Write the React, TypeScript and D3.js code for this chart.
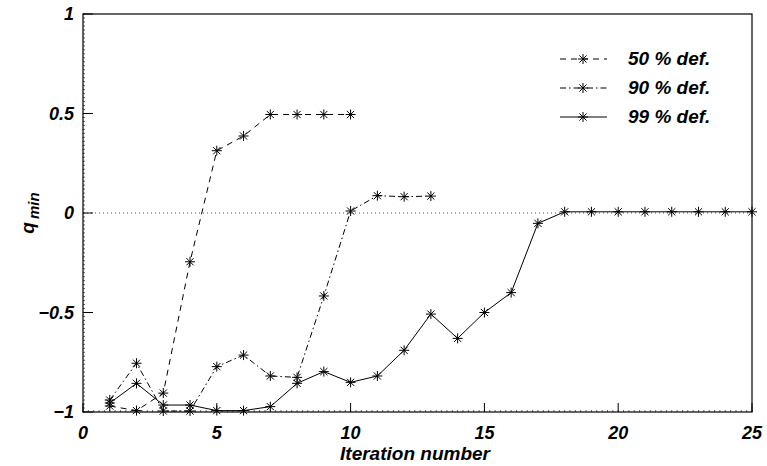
import React, { useEffect, useRef } from 'react';
import * as d3 from 'd3';

// iteration numbers and q_min values
const iter50 = [1, 2, 3, 4, 5, 6, 7, 8, 9, 10];
const q50 = [-0.97, -0.993, -0.905, -0.245, 0.313, 0.387, 0.495, 0.495, 0.495, 0.495];

const iter90 = [1, 2, 3, 4, 5, 6, 7, 8, 9, 10, 11, 12, 13];
const q90 = [-0.94, -0.755, -0.995, -0.995, -0.772, -0.714, -0.819, -0.826, -0.417, 0.01, 0.087, 0.082, 0.085];

const iter99 = [1, 2, 3, 4, 5, 6, 7, 8, 9, 10, 11, 12, 13, 14, 15, 16, 17, 18, 19, 20, 21, 22, 23, 24, 25];
const q99 = [-0.955, -0.856, -0.965, -0.965, -0.993, -0.993, -0.973, -0.856, -0.797, -0.851, -0.819, -0.69, -0.508, -0.63, -0.5, -0.4, -0.052, 0.006, 0.006, 0.006, 0.006, 0.006, 0.006, 0.006, 0.006];

const xTicks = [0, 5, 10, 15, 20, 25];
const yTicks = [-1, -0.5, 0, 0.5, 1];
const seriesNames = ['50 % def.', '90 % def.', '99 % def.'];

const FONT = '"Liberation Sans", Arial, Helvetica, sans-serif';

function App() {
  const ref = useRef<SVGSVGElement>(null);

  useEffect(() => {
    const svg = d3.select(ref.current);
    svg.selectAll('*').remove();

    const left = 83, right = 752, top = 14, bottom = 412;
    const x = d3.scaleLinear().domain([0, 25]).range([left, right]);
    const y = d3.scaleLinear().domain([-1, 1]).range([bottom, top]);

    // zero line
    svg.append('line')
      .attr('x1', left).attr('x2', right)
      .attr('y1', y(0)).attr('y2', y(0))
      .attr('stroke', '#555').attr('stroke-width', 1)
      .attr('stroke-dasharray', '1,3');

    // minor ticks
    const g = svg.append('g').attr('stroke', '#000').attr('stroke-width', 0.6);
    d3.range(0, 25.001, 0.2).forEach(v => {
      g.append('line').attr('x1', x(v)).attr('x2', x(v)).attr('y1', bottom).attr('y2', bottom - 2);
    });
    d3.range(-1, 1.001, 0.02).forEach(v => {
      g.append('line').attr('x1', left).attr('x2', left + 2).attr('y1', y(v)).attr('y2', y(v));
    });

    // major ticks
    const gm = svg.append('g').attr('stroke', '#000').attr('stroke-width', 1);
    xTicks.forEach(v => {
      gm.append('line').attr('x1', x(v)).attr('x2', x(v)).attr('y1', bottom).attr('y2', bottom - 9);
    });
    yTicks.forEach(v => {
      gm.append('line').attr('x1', left).attr('x2', left + 10).attr('y1', y(v)).attr('y2', y(v));
    });

    // frame
    svg.append('rect')
      .attr('x', left).attr('y', top)
      .attr('width', right - left).attr('height', bottom - top)
      .attr('fill', 'none').attr('stroke', '#000').attr('stroke-width', 1.2);

    // tick labels
    svg.append('g').selectAll('text').data(xTicks).join('text')
      .attr('x', d => x(d)).attr('y', 439)
      .attr('text-anchor', 'middle')
      .attr('font-family', FONT).attr('font-size', 18)
      .attr('font-weight', 'bold').attr('font-style', 'italic')
      .text(d => String(d));

    svg.append('g').selectAll('text').data(yTicks).join('text')
      .attr('x', 74).attr('y', d => y(d) + 6)
      .attr('text-anchor', 'end')
      .attr('font-family', FONT).attr('font-size', 18)
      .attr('font-weight', 'bold').attr('font-style', 'italic')
      .text(d => (d < 0 ? '\u2212' + String(-d) : String(d)));

    // axis titles
    svg.append('text')
      .attr('x', 415).attr('y', 460)
      .attr('text-anchor', 'middle')
      .attr('font-family', FONT).attr('font-size', 19)
      .attr('font-weight', 'bold').attr('font-style', 'italic')
      .text('Iteration number');

    const yl = svg.append('text')
      .attr('transform', `translate(34, ${y(0)}) rotate(-90)`)
      .attr('text-anchor', 'middle')
      .attr('font-family', FONT).attr('font-weight', 'bold').attr('font-style', 'italic');
    yl.append('tspan').attr('font-size', 19).text('q');
    yl.append('tspan').attr('font-size', 15).attr('dy', 5).attr('dx', 3).text('min');

    const series = [
      { xs: iter50, ys: q50, dash: '6,5' },
      { xs: iter90, ys: q90, dash: '6,3,1.5,3' },
      { xs: iter99, ys: q99, dash: null as string | null },
    ];

    const line = d3.line<[number, number]>().x(d => x(d[0])).y(d => y(d[1]));

    const star = (gg: d3.Selection<SVGGElement, unknown, null, undefined>, cx: number, cy: number) => {
      const r = 5, d = 3.6;
      const p = `M${cx - r},${cy}L${cx + r},${cy}M${cx},${cy - r}L${cx},${cy + r}` +
        `M${cx - d},${cy - d}L${cx + d},${cy + d}M${cx - d},${cy + d}L${cx + d},${cy - d}`;
      gg.append('path').attr('d', p).attr('stroke', '#000').attr('stroke-width', 1).attr('fill', 'none');
    };

    series.forEach((s, i) => {
      const pts = s.xs.map((v, k) => [v, s.ys[k]] as [number, number]);
      const path = svg.append('path')
        .attr('d', line(pts))
        .attr('fill', 'none').attr('stroke', '#000').attr('stroke-width', 1);
      if (s.dash) path.attr('stroke-dasharray', s.dash);
      const gp = svg.append('g');
      pts.forEach(p => star(gp as any, x(p[0]), y(p[1])));

      // legend
      const ly = 59 + i * 29;
      const ll = svg.append('line')
        .attr('x1', 560).attr('x2', 607).attr('y1', ly).attr('y2', ly)
        .attr('stroke', '#000').attr('stroke-width', 1);
      if (s.dash) ll.attr('stroke-dasharray', s.dash);
      star(gp as any, 583, ly);
      svg.append('text')
        .attr('x', 628).attr('y', ly + 6)
        .attr('font-family', FONT).attr('font-size', 19)
        .attr('font-weight', 'bold').attr('font-style', 'italic')
        .text(seriesNames[i]);
    });
  }, []);

  return (
    <svg ref={ref} width={767} height={466}
      style={{ position: 'absolute', left: 0, top: 0, background: '#fff' }} />
  );
}

export default App;
